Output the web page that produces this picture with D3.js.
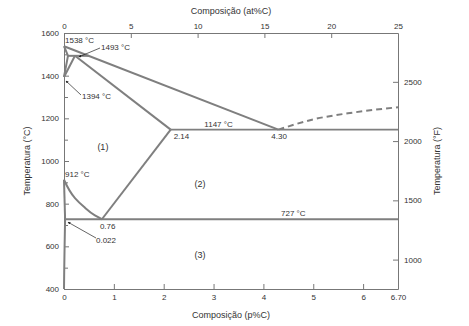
<!DOCTYPE html>
<html>
<head>
<meta charset="utf-8">
<script src="https://cdn.jsdelivr.net/npm/d3@7"></script>
<style>
  html, body { margin: 0; padding: 0; background: #fff; }
  svg { display: block; font-family: "Liberation Sans", Arial, sans-serif; }
  .axis text { font-size: 8px; fill: #333; }
  .axis path, .axis line { stroke: #777; stroke-width: 1; }
</style>
</head>
<body>
<svg id="chart" width="469" height="326"></svg>
<script>
// Fe–Fe3C phase diagram (composition in wt% C, temperature in °C)
const wtTicks = [0, 1, 2, 3, 4, 5, 6];
const atTicks = [0, 5, 10, 15, 20, 25];
const cTicks = [400, 600, 800, 1000, 1200, 1400, 1600];
const cMinorTicks = [500, 700, 900, 1100, 1300, 1500];
const fTicks = [1000, 1500, 2000, 2500];

// phase boundaries: [wt% C, °C]
const liquidus = [[0, 1538], [4.30, 1147]];
const liquidusCementite = [[4.30, 1147], [5.0, 1195], [5.8, 1227], [6.70, 1252]];
const deltaSolidus = [[0, 1538], [0.08, 1493]];
const deltaSolvus = [[0, 1394], [0.08, 1493]];
const gammaDeltaBoundary = [[0, 1394], [0.22, 1493]];
const peritectic = [[0.08, 1493], [0.5, 1493]];
const gammaSolidus = [[0.22, 1493], [2.14, 1147]];
const eutectic = [[2.14, 1147], [6.70, 1147]];
const acm = [[2.14, 1147], [0.76, 727]];
const a3 = [[0, 912], [0.22, 826], [0.4, 785], [0.62, 745], [0.76, 727]];
const alphaBoundary = [[0, 912], [0.022, 727]];
const alphaSolvus = [[0.022, 727], [0.012, 600], [0.004, 480], [0, 400]];
const eutectoid = [[0.022, 727], [6.70, 727]];

const svg = d3.select("#chart");
const x = d3.scaleLinear([0, 6.7], [64, 398]);
const xAt = d3.scaleLinear([0, 25], [64, 398]);
const y = d3.scaleLinear([400, 1600], [289, 33]);
const c2f = c => c * 1.8 + 32;
const yF = d3.scaleLinear([c2f(400), c2f(1600)], [289, 33]);

const ink = "#333";
const lineCol = "#7f7f7f";

// axes (ticks point inward)
svg.append("g").attr("class", "axis").attr("transform", "translate(64,0)")
  .call(d3.axisLeft(y).tickValues(cTicks).tickSizeInner(-5).tickSizeOuter(0).tickPadding(5).tickFormat(d3.format("d")));
svg.append("g").attr("class", "axis").attr("transform", "translate(64,0)")
  .call(d3.axisLeft(y).tickValues(cMinorTicks).tickSizeInner(-4).tickSizeOuter(0).tickFormat(""))
  .select(".domain").remove();
svg.append("g").attr("class", "axis").attr("transform", "translate(398,0)")
  .call(d3.axisRight(yF).tickValues(fTicks).tickSizeInner(-5).tickSizeOuter(0).tickPadding(6).tickFormat(d3.format("d")));
const bottomAxis = svg.append("g").attr("class", "axis").attr("transform", "translate(0,289)")
  .call(d3.axisBottom(x).tickValues(wtTicks.concat([6.7])).tickSizeInner(-5).tickSizeOuter(0).tickPadding(5)
    .tickFormat(d => d === 6.7 ? "6.70" : d3.format("d")(d)));
bottomAxis.selectAll(".tick line").filter(d => d === 0 || d === 6.7).remove();
const topAxis = svg.append("g").attr("class", "axis").attr("transform", "translate(0,33)")
  .call(d3.axisTop(xAt).tickValues(atTicks).tickSizeInner(-5).tickSizeOuter(0).tickPadding(4).tickFormat(d3.format("d")));
topAxis.selectAll(".tick line").filter(d => d === 0 || d === 25).remove();

// axis titles
svg.append("text").attr("x", 231).attr("y", 14).attr("text-anchor", "middle")
  .attr("font-size", 9).attr("fill", ink).text("Composição (at%C)");
svg.append("text").attr("x", 231).attr("y", 318).attr("text-anchor", "middle")
  .attr("font-size", 9).attr("fill", ink).text("Composição (p%C)");
svg.append("text").attr("transform", "translate(30,161) rotate(-90)").attr("text-anchor", "middle")
  .attr("font-size", 9).attr("fill", ink).text("Temperatura (°C)");
svg.append("text").attr("transform", "translate(440,161) rotate(-90)").attr("text-anchor", "middle")
  .attr("font-size", 9).attr("fill", ink).text("Temperatura (°F)");

// phase boundary lines
const line = d3.line().x(d => x(d[0])).y(d => y(d[1]));
const curve = d3.line().x(d => x(d[0])).y(d => y(d[1])).curve(d3.curveMonotoneY);
const g = svg.append("g").attr("fill", "none").attr("stroke", lineCol).attr("stroke-width", 2);
[liquidus, deltaSolidus, deltaSolvus, gammaDeltaBoundary, peritectic, gammaSolidus, acm, alphaBoundary]
  .forEach(d => g.append("path").attr("d", line(d)));
g.append("path").attr("d", curve(a3));
g.append("path").attr("d", curve(alphaSolvus));
[eutectic, eutectoid].forEach(d => g.append("path").attr("d", line(d)).attr("stroke-width", 1.8));
g.append("path").attr("d", d3.line().x(d => x(d[0])).y(d => y(d[1])).curve(d3.curveMonotoneX)(liquidusCementite))
  .attr("stroke-dasharray", "6,4");

// labels
const label = (tx, ty, s, anchor = "start", size = 8) =>
  svg.append("text").attr("x", tx).attr("y", ty).attr("text-anchor", anchor)
    .attr("font-size", size).attr("fill", ink).text(s);
label(x(0) + 1, y(1538) - 3, "1538 °C");
label(101, 50, "1493 °C");
label(82, 99, "1394 °C");
label(x(0) + 1, y(912) - 3, "912 °C");
label(x(2.14) + 3, y(1147) + 9, "2.14");
label(x(4.30) - 7, y(1147) + 9, "4.30");
label(x(3.1), y(1147) - 3, "1147 °C", "middle");
label(x(4.6), y(727) - 3, "727 °C", "middle");
label(x(0.76) - 2, y(727) + 10, "0.76");
label(96, 243, "0.022");
label(x(0.78), y(1050), "(1)", "middle", 9);
label(x(2.73), y(880), "(2)", "middle", 9);
label(x(2.73), y(545), "(3)", "middle", 9);

// leader lines with small arrowheads
svg.append("defs").append("marker").attr("id", "arr").attr("viewBox", "0 0 6 6")
  .attr("refX", 5).attr("refY", 3).attr("markerWidth", 4).attr("markerHeight", 4).attr("orient", "auto")
  .append("path").attr("d", "M0,0L6,3L0,6Z").attr("fill", "#222");
const leader = (x1, y1, x2, y2) => svg.append("line").attr("x1", x1).attr("y1", y1).attr("x2", x2).attr("y2", y2)
  .attr("stroke", "#222").attr("stroke-width", 0.7).attr("marker-end", "url(#arr)");
leader(100, 48, x(0.3), y(1493) + 1);
leader(81, 95, x(0) + 2, y(1394) + 4);
leader(96, 238, x(0.022) + 3, y(727) + 3);
</script>
</body>
</html>
